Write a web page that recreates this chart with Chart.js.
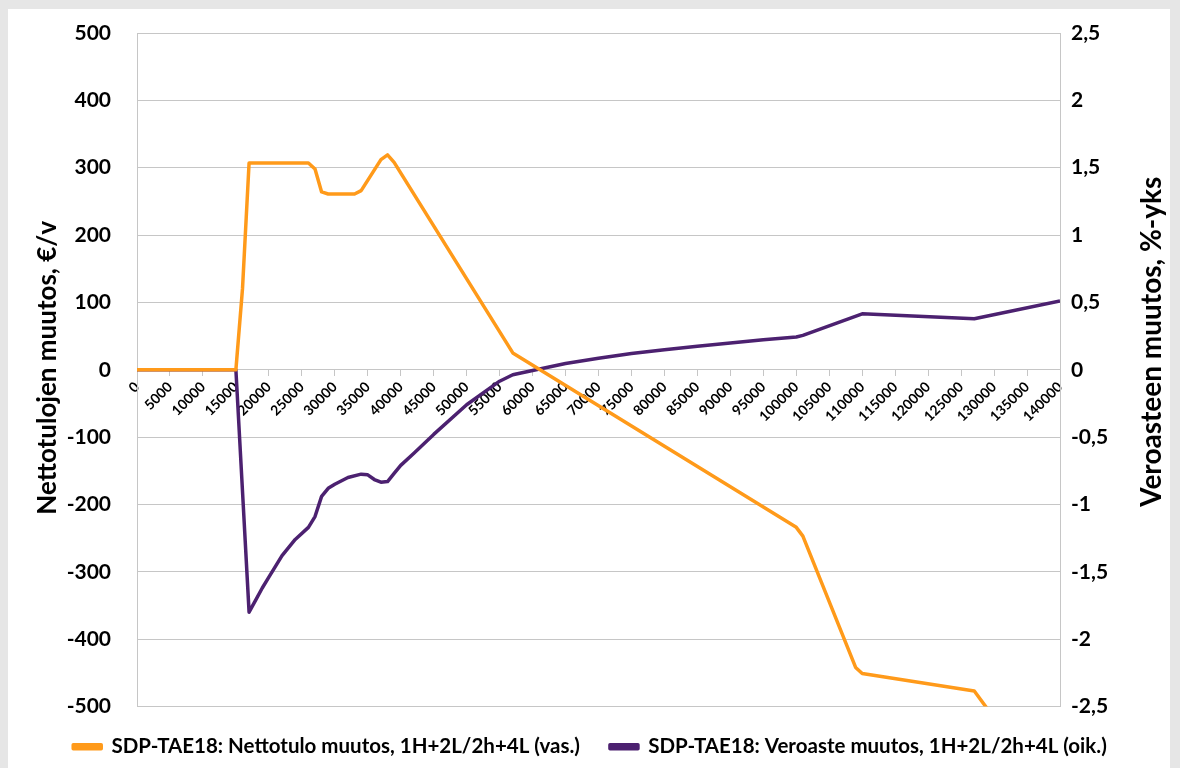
<!DOCTYPE html>
<html>
<head>
<meta charset="utf-8">
<script src="https://cdn.jsdelivr.net/npm/chart.js@4.4.1/dist/chart.umd.min.js"></script>
<style>
  html, body { margin: 0; padding: 0; background: #e6e6e6; }
  #wrap { width: 1180px; height: 768px; }
</style>
</head>
<body>
<div id="wrap"><canvas id="chart"></canvas></div>
<script>
// net income change (€/v, left axis) by yearly income
const incomeNet = [0, 15000, 16000, 17000, 26000, 27000, 28000, 29000, 33000, 34000, 37000, 38000, 39000, 57000, 100000, 101000, 109000, 110000, 127000, 130000, 140000];
const netChange = [0, 0, 120, 307, 307, 298, 264, 261, 261, 266, 312, 319, 308, 25, -234, -247, -442, -451, -477, -517, -650];

// tax rate change (%-yks, right axis)
const incomeTax = [0, 15000, 16000, 17000, 18000, 19000, 20000, 22000, 24000, 26000, 27000, 28000, 29000, 30000, 32000, 34000, 35000, 36000, 37000, 38000, 39000, 40000, 42000, 45000, 50000, 55000, 57000, 60000, 65000, 70000, 75000, 80000, 85000, 90000, 95000, 100000, 101000, 110000, 127000, 140000];
const taxChange = [0, 0, -0.9, -1.8, -1.71, -1.62, -1.54, -1.38, -1.26, -1.17, -1.09, -0.94, -0.88, -0.85, -0.8, -0.775, -0.78, -0.815, -0.835, -0.83, -0.77, -0.71, -0.62, -0.48, -0.26, -0.085, -0.037, -0.005, 0.047, 0.085, 0.12, 0.148, 0.175, 0.198, 0.222, 0.243, 0.255, 0.415, 0.378, 0.51];

const leftTicks = [-500, -400, -300, -200, -100, 0, 100, 200, 300, 400, 500];
const rightTicks = [-2.5, -2, -1.5, -1, -0.5, 0, 0.5, 1, 1.5, 2, 2.5];

const leftTitle = "Nettotulojen muutos, €/v";
const rightTitle = "Veroasteen muutos, %-yks";

const orange = "#ff9a1a";
const purple = "#4c2170";
const gridGray = "#c6c6c6";
const fontFamily = "Lato, 'Open Sans', sans-serif";

const toPoints = (xs, ys) => xs.map((x, i) => ({ x: x, y: ys[i] }));

function drawAxisTitle(c, text, size, x, y) {
  c.save();
  c.fillStyle = "#000";
  c.font = "bold " + size + "px " + fontFamily;
  c.textAlign = "center";
  c.textBaseline = "middle";
  c.translate(x, y);
  c.rotate(-Math.PI / 2);
  c.fillText(text, 0, 0);
  c.restore();
}

const framePlugin = {
  id: "frame",
  beforeDraw(chart) {
    const c = chart.ctx;
    c.save();
    c.fillStyle = "#e6e6e6";
    c.fillRect(0, 0, chart.width, chart.height);
    c.fillStyle = "#ffffff";
    c.fillRect(8, 9, 1162, chart.height - 9);
    c.restore();
  },
  afterDraw(chart) {
    const area = chart.chartArea;
    const mid = (area.top + area.bottom) / 2;
    drawAxisTitle(chart.ctx, leftTitle, 26, area.left - 89, mid - 2);
    drawAxisTitle(chart.ctx, rightTitle, 28, area.right + 92, mid - 28);
  },
};

new Chart(document.getElementById("chart"), {
  type: "line",
  data: {
    datasets: [
      {
        label: "SDP-TAE18: Nettotulo muutos, 1H+2L/2h+4L (vas.)",
        data: toPoints(incomeNet, netChange),
        borderColor: orange,
        backgroundColor: orange,
        borderWidth: 3.5,
        pointRadius: 0,
        tension: 0,
        borderJoinStyle: "round",
        yAxisID: "y",
      },
      {
        label: "SDP-TAE18: Veroaste muutos, 1H+2L/2h+4L (oik.)",
        data: toPoints(incomeTax, taxChange),
        borderColor: purple,
        backgroundColor: purple,
        borderWidth: 3.5,
        pointRadius: 0,
        tension: 0,
        borderJoinStyle: "round",
        yAxisID: "y1",
      },
    ],
  },
  options: {
    responsive: true,
    maintainAspectRatio: false,
    animation: false,
    layout: { padding: { top: 33, bottom: 1, left: 0, right: 0 } },
    plugins: {
      legend: {
        position: "bottom",
        labels: {
          color: "#000",
          boxWidth: 28,
          boxHeight: 4,
          padding: 30,
          font: { family: fontFamily, size: 20.5, weight: "bold" },
        },
      },
      tooltip: { enabled: false },
    },
    scales: {
      x: {
        type: "linear",
        position: { y: 0 },
        min: 0,
        max: 140000,
        afterBuildTicks(scale) {
          scale.ticks = [];
          for (let v = 0; v <= 140000; v += 5000) scale.ticks.push({ value: v });
        },
        grid: {
          drawOnChartArea: false,
          color: gridGray,
          tickLength: 6,
        },
        border: { color: gridGray },
        ticks: {
          autoSkip: false,
          minRotation: 45,
          maxRotation: 45,
          padding: 3,
          color: "#000",
          font: { family: fontFamily, size: 14, weight: "bold" },
          callback: (v) => String(v),
        },
      },
      y: {
        position: "left",
        min: -500,
        max: 500,
        afterFit(scale) { scale.width = 137; },
        afterBuildTicks(scale) { scale.ticks = leftTicks.map((v) => ({ value: v })); },
        grid: { color: gridGray, tickLength: 26, tickColor: "rgba(0,0,0,0)" },
        border: { color: gridGray },
        ticks: {
          padding: 0,
          color: "#000",
          font: { family: fontFamily, size: 21, weight: "bold" },
        },
      },
      y1: {
        position: "right",
        min: -2.5,
        max: 2.5,
        afterFit(scale) { scale.width = 120; },
        afterBuildTicks(scale) { scale.ticks = rightTicks.map((v) => ({ value: v })); },
        grid: { drawOnChartArea: false, tickLength: 11, tickColor: "rgba(0,0,0,0)" },
        border: { color: gridGray },
        ticks: {
          padding: 0,
          color: "#000",
          font: { family: fontFamily, size: 21, weight: "bold" },
          callback: (v) => String(Math.round(v * 10) / 10).replace(".", ","),
        },
      },
    },
  },
  plugins: [framePlugin],
});
</script>
</body>
</html>
